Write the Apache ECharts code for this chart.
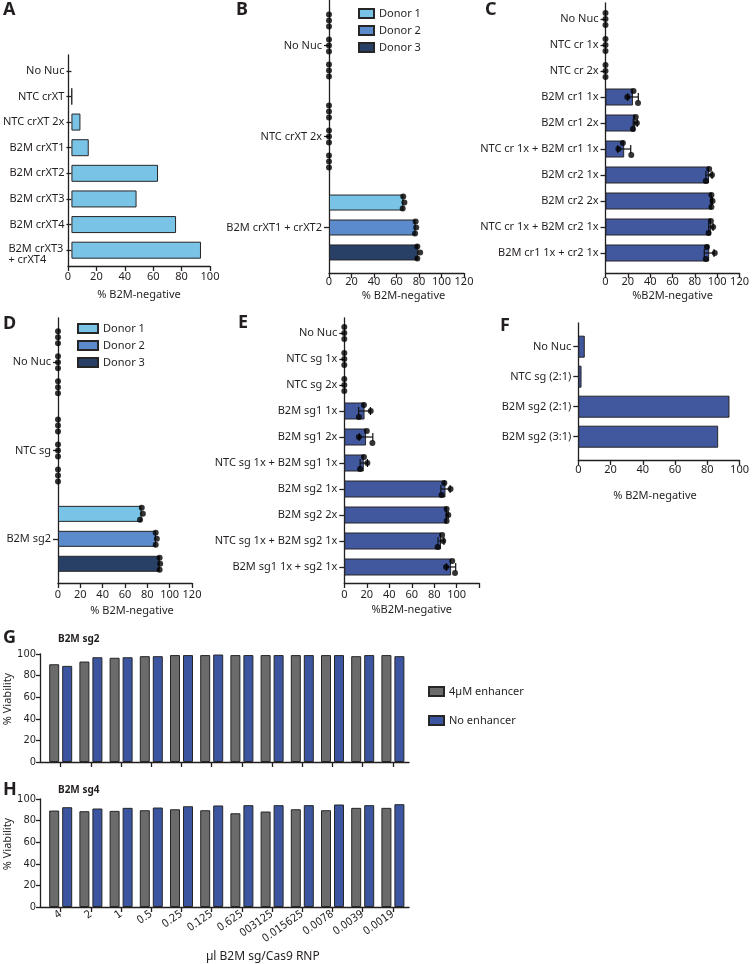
<!DOCTYPE html>
<html>
<head>
<meta charset="utf-8">
<script src="https://cdn.jsdelivr.net/npm/echarts@6/dist/echarts.min.js"></script>
<style>
  html, body { margin: 0; background: #fff; }
  #main { width: 752px; height: 964px; }
</style>
</head>
<body>
<div id="main"></div>
<script>
// ---- data ----
var catsA = ["No Nuc", "NTC crXT", "NTC crXT 2x", "B2M crXT1", "B2M crXT2", "B2M crXT3", "B2M crXT4", "B2M crXT3\n+ crXT4"];
var valsA = [0, 0.5, 6.5, 12.5, 62.5, 47, 75.5, 93.5];

var catsB = ["No Nuc", "NTC crXT 2x", "B2M crXT1 + crXT2"];
var donor1B = [[0, 0, 0], [0, 0, 0], [66, 67, 65.5]];
var donor2B = [[0, 0, 0], [0, 0, 0], [77, 77.5, 76.5]];
var donor3B = [[0, 0, 0], [0, 0, 0], [78.5, 81, 78.5]];

var catsC = ["No Nuc", "NTC cr 1x", "NTC cr 2x", "B2M cr1 1x", "B2M cr1 2x", "NTC cr 1x + B2M cr1 1x",
  "B2M cr2 1x", "B2M cr2 2x", "NTC cr 1x + B2M cr2 1x", "B2M cr1 1x + cr2 1x"];
var repsC = [[0, 0, 0], [0, 0, 0], [0, 0, 0], [25, 19.5, 29], [27, 28, 24.5], [15.5, 11.5, 23],
  [92.5, 95, 89.5], [94.5, 95.5, 94.5], [94, 96, 92], [90.5, 97.5, 89.5]];

var catsD = ["No Nuc", "NTC sg", "B2M sg2"];
var donor1D = [[0, 0, 0], [0, 0, 0], [75, 76, 73.5]];
var donor2D = [[0, 0, 0], [0, 0, 0], [87.5, 88.5, 87.5]];
var donor3D = [[0, 0, 0], [0, 0, 0], [91, 91.5, 91]];

var catsE = ["No Nuc", "NTC sg 1x", "NTC sg 2x", "B2M sg1 1x", "B2M sg1 2x", "NTC sg 1x + B2M sg1 1x",
  "B2M sg2 1x", "B2M sg2 2x", "NTC sg 1x + B2M sg2 1x", "B2M sg1 1x + sg2 1x"];
var repsE = [[0, 0, 0], [0, 0, 0], [0, 0, 0], [17.5, 23.5, 13], [20, 13, 25], [17.5, 20.5, 14],
  [89, 94.5, 86.5], [91, 92.5, 91], [87, 88, 83], [96, 90.5, 98.5]];

var catsF = ["No Nuc", "NTC sg (2:1)", "B2M sg2 (2:1)", "B2M sg2 (3:1)"];
var valsF = [4, 2, 93.5, 86.5];

var doses = ["4", "2", "1", "0.5", "0.25", "0.125", "0.625", "003125", "0.015625", "0.0078", "0.0039", "0.0019"];
var sg2Enh = [90.5, 93, 96.5, 98, 99, 99, 99, 99, 99, 99, 98, 99];
var sg2No = [89, 97, 97, 98, 99, 99.5, 99, 99, 99, 99, 99, 98];
var sg4Enh = [89.3, 88.7, 89, 89.6, 90.5, 89.6, 86.8, 88.4, 90.5, 89.6, 91.8, 91.8];
var sg4No = [92.4, 91.2, 91.8, 92.1, 93.3, 94, 94.3, 94.3, 94.3, 94.9, 94.3, 95.2];

// ---- style ----
var FONT = "'Noto Sans', sans-serif";
var NARROW = "'Liberation Sans Narrow', 'DejaVu Sans Condensed', 'Noto Sans', sans-serif";
var INK = "#231f20";
var EDGE = "#262626";
var LIGHT = "#79c3e7";
var DONORS = ["#79c3e7", "#5b8bcb", "#283f66"];
var MID = "#41579e";
var GRAY = "#6b6b6b";
var BLUE = "#3c55a0";
var REP_OFF = [-6, 0, 6];
var DONOR_OFF = [-25, 0, 25];

function mean(a) { return (a[0] + a[1] + a[2]) / 3; }
function sd(a) {
  var m = mean(a), s = 0;
  a.forEach(function (v) { s += (v - m) * (v - m); });
  return Math.sqrt(s / (a.length - 1));
}

var option = {
  animation: false,
  textStyle: { fontFamily: FONT, color: INK },
  title: [], grid: [], xAxis: [], yAxis: [], series: [], legend: []
};

function letter(t, x, y, size) {
  option.title.push({
    text: t, left: x, top: y, padding: 0,
    textStyle: { fontSize: size || 18, fontWeight: "bold", color: INK, fontFamily: FONT }
  });
}

// horizontal bar panel: outer grid carries the axis lines, inner grid the bands
function hPanel(p) {
  var g = option.grid.length;
  option.grid.push({ left: p.left, top: p.top, width: p.width, height: p.height });
  option.grid.push({ left: p.left, top: p.bandTop, width: p.width, height: p.bandH });
  var xi = option.xAxis.length, yi = option.yAxis.length;
  var shift = p.nameShift || 0;
  option.xAxis.push({
    gridIndex: g, type: "value", min: 0, max: p.max, interval: 20,
    axisLine: { show: true, lineStyle: { color: INK, width: 1.3 } },
    axisTick: { show: true, length: 5, lineStyle: { color: INK, width: 1.3 } },
    axisLabel: {
      color: INK, fontSize: 11, margin: p.labelMargin,
      formatter: function (v) { return (p.hideMax && v === p.max) ? "" : String(v); }
    },
    splitLine: { show: false },
    name: p.name, nameLocation: "middle", nameGap: p.nameGap,
    nameTextStyle: { fontSize: 11, color: INK, padding: shift >= 0 ? [0, 0, 0, shift] : [0, -shift, 0, 0] }
  });
  option.xAxis.push({ gridIndex: g + 1, type: "value", min: 0, max: p.max, show: false });
  option.yAxis.push({
    gridIndex: g, type: "value", min: 0, max: 1,
    axisLine: { show: true, lineStyle: { color: INK, width: 1.3 } },
    axisTick: { show: false }, axisLabel: { show: false }, splitLine: { show: false }
  });
  option.yAxis.push({
    gridIndex: g + 1, type: "category", inverse: true, data: p.cats,
    axisLine: { show: false },
    axisTick: { show: true, alignWithLabel: true, interval: 0, length: 5, lineStyle: { color: INK, width: 1.3 } },
    axisLabel: { color: INK, fontSize: 11, margin: 7, interval: 0, formatter: p.fmt, rich: p.rich }
  });
  return { xAxisIndex: xi + 1, yAxisIndex: yi + 1 };
}

function dots(ax, reps, off) {
  var data = [];
  reps.forEach(function (r, c) {
    r.forEach(function (v, k) {
      data.push({ value: [v, c], symbolOffset: [0, (off || 0) + REP_OFF[k]] });
    });
  });
  option.series.push({
    type: "scatter", xAxisIndex: ax.xAxisIndex, yAxisIndex: ax.yAxisIndex, data: data,
    symbolSize: 6, itemStyle: { color: "#000" }, clip: false, z: 6, silent: true
  });
}

function errorBars(ax, reps) {
  var data = [];
  reps.forEach(function (r, c) {
    var s = sd(r), m = mean(r);
    if (s > 0) data.push([m - s, m + s, c]);
  });
  option.series.push({
    type: "custom", xAxisIndex: ax.xAxisIndex, yAxisIndex: ax.yAxisIndex, data: data,
    encode: { x: [0, 1], y: 2 }, z: 5, silent: true, clip: false,
    renderItem: function (params, api) {
      var lo = api.coord([api.value(0), api.value(2)]);
      var hi = api.coord([api.value(1), api.value(2)]);
      var st = { stroke: "#111", lineWidth: 1.2 };
      return {
        type: "group", children: [
          { type: "line", shape: { x1: lo[0], y1: lo[1], x2: hi[0], y2: hi[1] }, style: st },
          { type: "line", shape: { x1: lo[0], y1: lo[1] - 4, x2: lo[0], y2: lo[1] + 4 }, style: st },
          { type: "line", shape: { x1: hi[0], y1: hi[1] - 4, x2: hi[0], y2: hi[1] + 4 }, style: st }
        ]
      };
    }
  });
}

function bars(ax, vals, color, width, name, gap) {
  option.series.push({
    type: "bar", name: name, xAxisIndex: ax.xAxisIndex, yAxisIndex: ax.yAxisIndex,
    // a zero value draws no bar (only its outline would show otherwise)
    data: vals.map(function (v) { return v === 0 ? "-" : v; }),
    barWidth: width, barGap: gap || "30%",
    itemStyle: { color: color, borderColor: EDGE, borderWidth: 1 }, silent: true
  });
}

// ---- A ----
letter("A", 3, 1);
var a = hPanel({
  left: 68, top: 55, width: 142, height: 211, bandTop: 58, bandH: 205,
  cats: catsA, max: 100, labelMargin: 5, name: "% B2M-negative", nameGap: 23,
  fmt: function (v) {
    if (v.indexOf("\n") < 0) return v;
    var parts = v.split("\n");
    return "{l|" + parts[0] + "}\n{m|" + parts[1] + "}";
  },
  rich: {
    l: { width: 56, align: "left", fontSize: 11, color: INK, fontFamily: FONT, padding: [9, 0, 0, 0] },
    m: { width: 56, align: "left", fontSize: 11, color: INK, fontFamily: FONT }
  }
});
bars(a, valsA, LIGHT, 17);

// ---- B ----
letter("B", 236, 1);
var b = hPanel({
  left: 329, top: 0, width: 135, height: 273, bandTop: 0, bandH: 273,
  cats: catsB, max: 120, labelMargin: 3, name: "% B2M-negative", nameGap: 17, nameShift: 14
});
[donor1B, donor2B, donor3B].forEach(function (d, i) {
  bars(b, d.map(mean), DONORS[i], 16, "Donor " + (i + 1), "56%");
});
[donor1B, donor2B, donor3B].forEach(function (d, i) { dots(b, d, DONOR_OFF[i]); });

// ---- C ----
letter("C", 485, 1);
var c = hPanel({
  left: 605.5, top: 3, width: 134.5, height: 270, bandTop: 6, bandH: 260,
  cats: catsC, max: 120, labelMargin: 3, name: "%B2M-negative", nameGap: 17
});
bars(c, repsC.map(mean), MID, 17);
errorBars(c, repsC);
dots(c, repsC, 0);

// ---- D ----
letter("D", 3, 315);
var d = hPanel({
  left: 58, top: 318, width: 134, height: 265, bandTop: 318, bandH: 265,
  cats: catsD, max: 120, labelMargin: 6, name: "% B2M-negative", nameGap: 22, nameShift: 14
});
[donor1D, donor2D, donor3D].forEach(function (s, i) {
  bars(d, s.map(mean), DONORS[i], 16, "Donor " + (i + 1), "56%");
});
[donor1D, donor2D, donor3D].forEach(function (s, i) { dots(d, s, DONOR_OFF[i]); });

// ---- E ----
letter("E", 238, 314);
var e = hPanel({
  left: 344.3, top: 318, width: 134.9, height: 265, bandTop: 320, bandH: 260,
  cats: catsE, max: 120, hideMax: true, labelMargin: 6, name: "%B2M-negative", nameGap: 21
});
bars(e, repsE.map(mean), MID, 17);
errorBars(e, repsE);
dots(e, repsE, 0);

// ---- F ----
letter("F", 500, 317);
var f = hPanel({
  left: 578.3, top: 323, width: 161.7, height: 137, bandTop: 331.7, bandH: 120,
  cats: catsF, max: 100, labelMargin: 4, name: "% B2M-negative", nameGap: 30, nameShift: -8
});
bars(f, valsF, MID, 22);

// ---- G / H ----
function vPanel(top, withLabels) {
  var g = option.grid.length;
  option.grid.push({ left: 40, top: top, width: 369, height: 108 });
  option.grid.push({ left: 45.6, top: top, width: 362.4, height: 108 });
  var xi = option.xAxis.length, yi = option.yAxis.length;
  option.xAxis.push({
    gridIndex: g, type: "value", min: 0, max: 1,
    axisLine: { show: true, lineStyle: { color: INK, width: 1.3 } },
    axisTick: { show: false }, axisLabel: { show: false }, splitLine: { show: false }
  });
  option.yAxis.push({
    gridIndex: g, type: "value", min: 0, max: 100, interval: 20,
    axisLine: { show: true, lineStyle: { color: INK, width: 1.3 } },
    axisTick: { show: true, length: 4, lineStyle: { color: INK, width: 1.3 } },
    axisLabel: { color: INK, fontSize: 11, fontFamily: NARROW, margin: 4 },
    splitLine: { show: false },
    name: "% Viability", nameLocation: "middle", nameGap: 27,
    nameTextStyle: { fontSize: 11, color: INK, padding: [0, 0, 0, 18] }
  });
  option.xAxis.push({
    gridIndex: g + 1, type: "category", data: doses,
    axisLine: { show: false },
    axisTick: { show: true, alignWithLabel: true, interval: 0, length: 5, lineStyle: { color: INK, width: 1.3 } },
    axisLabel: withLabels
      ? { show: true, rotate: 35, fontSize: 11, fontFamily: NARROW, color: INK, margin: 6, interval: 0 }
      : { show: false, interval: 0 },
    name: withLabels ? "\u00b5l B2M sg/Cas9 RNP" : "", nameLocation: "middle", nameGap: 44,
    nameTextStyle: { fontSize: 12, color: INK, padding: [0, 0, 0, 72] }
  });
  option.yAxis.push({ gridIndex: g + 1, type: "value", min: 0, max: 100, show: false });
  return { xAxisIndex: xi + 1, yAxisIndex: yi + 1 };
}

letter("G", 3, 629);
option.title.push({ text: "B2M sg2", left: 58, top: 634, padding: 0,
  textStyle: { fontSize: 10, fontWeight: "bold", color: INK, fontFamily: FONT } });
var gg = vPanel(654, false);
bars(gg, sg2Enh, GRAY, 10, "4\u00b5M enhancer", "30%");
bars(gg, sg2No, BLUE, 10, "No enhancer", "30%");

letter("H", 3, 781);
option.title.push({ text: "B2M sg4", left: 58, top: 785, padding: 0,
  textStyle: { fontSize: 10, fontWeight: "bold", color: INK, fontFamily: FONT } });
var hh = vPanel(799, true);
bars(hh, sg4Enh, GRAY, 10, "4\u00b5M enhancer", "30%");
bars(hh, sg4No, BLUE, 10, "No enhancer", "30%");

// ---- legends ----
option.legend.push({
  data: ["Donor 1", "Donor 2", "Donor 3"], orient: "vertical", left: 358, top: 8, padding: 0,
  itemWidth: 15, itemHeight: 9, itemGap: 6, icon: "rect", selectedMode: false,
  textStyle: { fontSize: 11, color: INK, fontFamily: FONT }
});
option.legend.push({
  data: ["Donor 1", "Donor 2", "Donor 3"], orient: "vertical", left: 77, top: 323, padding: 0,
  itemWidth: 20, itemHeight: 9, itemGap: 6, icon: "rect", selectedMode: false,
  textStyle: { fontSize: 11, color: INK, fontFamily: FONT }
});
option.legend.push({
  data: ["4\u00b5M enhancer", "No enhancer"], orient: "vertical", left: 428, top: 686, padding: 0,
  itemWidth: 15, itemHeight: 9, itemGap: 18, icon: "rect", selectedMode: false,
  textStyle: { fontSize: 11, color: INK, fontFamily: FONT }
});

var myChart = echarts.init(document.getElementById("main"), null, { renderer: "canvas" });
myChart.setOption(option);
</script>
</body>
</html>
